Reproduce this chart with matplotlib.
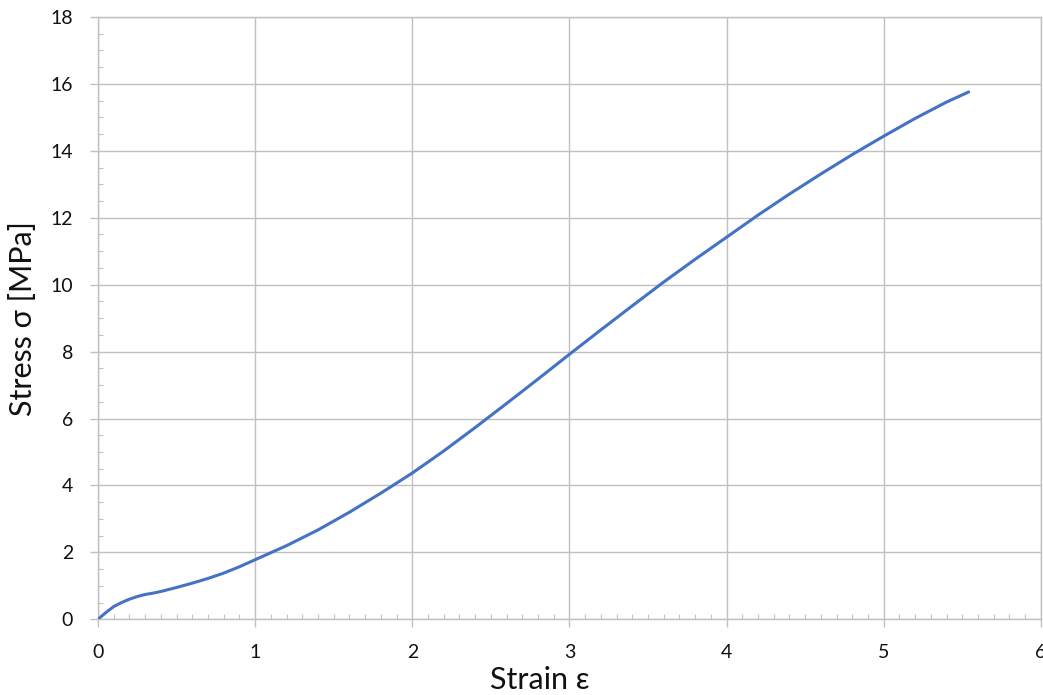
import matplotlib
matplotlib.use("Agg")
import matplotlib.pyplot as plt
from matplotlib.ticker import MultipleLocator

plt.rcParams["font.family"] = ["Lato", "Open Sans", "DejaVu Sans"]

# Stress-strain curve
strain = [0, 0.05, 0.1, 0.15, 0.2, 0.25, 0.3, 0.35, 0.4, 0.5, 0.6, 0.7, 0.8, 0.9,
          1.0, 1.2, 1.4, 1.6, 1.8, 2.0, 2.2, 2.4, 2.6, 2.8, 3.0, 3.2, 3.4, 3.6,
          3.8, 4.0, 4.2, 4.4, 4.6, 4.8, 5.0, 5.2, 5.4, 5.54]
stress = [0, 0.2, 0.38, 0.5, 0.6, 0.68, 0.74, 0.78, 0.83, 0.95, 1.08, 1.22, 1.38, 1.57,
          1.78, 2.2, 2.67, 3.2, 3.77, 4.37, 5.03, 5.73, 6.45, 7.18, 7.92, 8.65, 9.37, 10.08,
          10.76, 11.42, 12.08, 12.71, 13.31, 13.89, 14.44, 14.97, 15.46, 15.76]

grey = "#c0c0c0"

fig = plt.figure(figsize=(10.43, 6.95), dpi=100)
ax = fig.add_axes([0.094, 0.109, 0.904, 0.8665])

ax.plot(strain, stress, color="#4472C4", lw=2.2, solid_capstyle="round",
        solid_joinstyle="round", zorder=3)

ax.set_xlim(0, 6)
ax.set_ylim(0, 18)
ax.xaxis.set_major_locator(MultipleLocator(1))
ax.xaxis.set_minor_locator(MultipleLocator(0.1))
ax.yaxis.set_major_locator(MultipleLocator(2))
ax.yaxis.set_minor_locator(MultipleLocator(0.5))

ax.grid(True, which="major", color=grey, lw=1.0)
for s in ax.spines.values():
    s.set_color(grey)
    s.set_linewidth(1.0)

ax.tick_params(which="major", direction="out", length=6, width=1.0, color=grey,
               labelsize=14, pad=12, labelcolor="#111111")
ax.tick_params(which="minor", direction="in", length=3.5, width=0.8, color=grey)

ax.set_xlabel("Strain ε", fontsize=22, color="#111111", labelpad=1)
ax.xaxis.set_label_coords(0.469, -0.078)
ax.set_ylabel("Stress σ [MPa]", fontsize=22, color="#111111", labelpad=10)

fig.savefig("out.png", dpi=100)
